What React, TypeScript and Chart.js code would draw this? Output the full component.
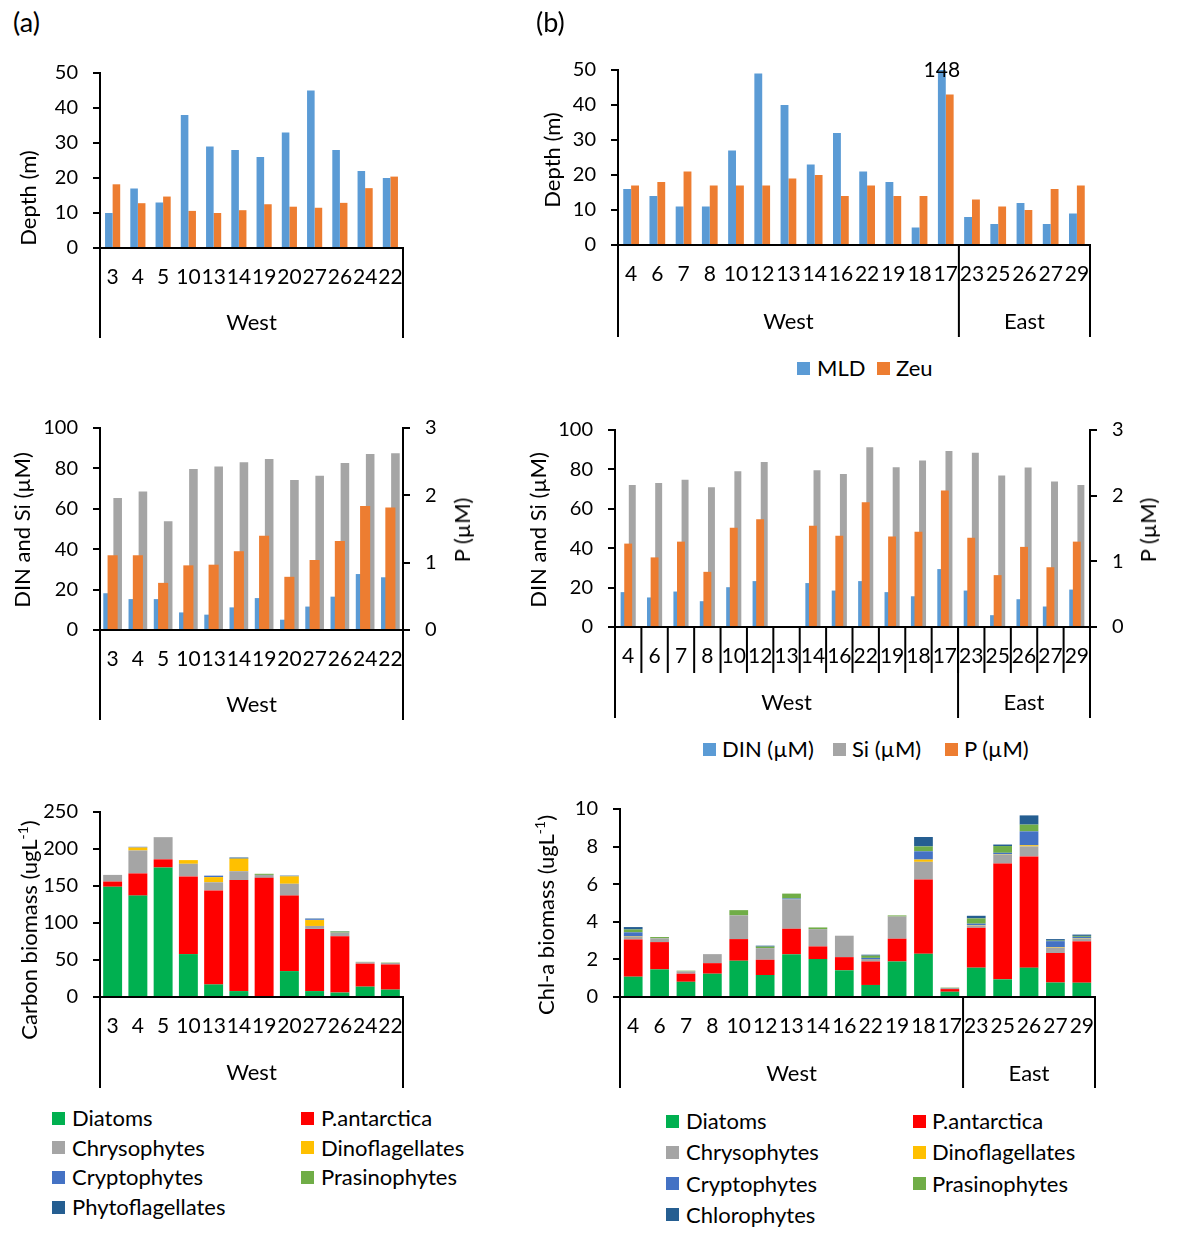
import React, { useEffect, useRef } from 'react';
import { Chart, registerables } from 'chart.js';

Chart.register(...registerables);

const FONT = 'Lato, "Open Sans", sans-serif';
const FS = 22;
const YTICK_FS = 20;
const XTICK_FS = 21;
Chart.defaults.font.family = FONT;
Chart.defaults.font.size = FS;
Chart.defaults.color = '#000';

// ---------- categories ----------
const stationsA = ['3', '4', '5', '10', '13', '14', '19', '20', '27', '26', '24', '22'];
const stationsB = ['4', '6', '7', '8', '10', '12', '13', '14', '16', '22', '19', '18', '17', '23', '25', '26', '27', '29'];
const groupsA = ['West'];
const groupCountsA = [12];
const groupsB = ['West', 'East'];
const groupCountsB = [13, 5];

// ---------- depth (m) ----------
const mldA = [10, 17, 13, 38, 29, 28, 26, 33, 45, 28, 22, 20];
const zeuA = [18.2, 12.8, 14.7, 10.6, 10, 10.8, 12.5, 11.8, 11.5, 12.9, 17.1, 20.4];
const mldB = [16, 14, 11, 11, 27, 49, 40, 23, 32, 21, 18, 5, 148, 8, 6, 12, 6, 9];
const zeuB = [17, 18, 21, 17, 17, 17, 19, 20, 14, 17, 14, 14, 43, 13, 11, 10, 16, 17];

// ---------- nutrients ----------
const dinA = [18.2, 15.3, 15.3, 8.7, 7.6, 11.2, 15.8, 5.1, 11.6, 16.5, 27.7, 26.1];
const siA = [65.3, 68.6, 53.8, 79.7, 81, 83, 84.7, 74.3, 76.4, 82.7, 87.1, 87.5];
const pA = [1.11, 1.11, 0.7, 0.96, 0.97, 1.17, 1.4, 0.79, 1.04, 1.32, 1.84, 1.82];
const dinB = [17.7, 15, 18, 13.1, 20.2, 23.3, null, 22.3, 18.5, 23.3, 17.7, 15.6, 29.4, 18.5, 6, 14.1, 10.4, 19];
const siB = [72.1, 73.1, 74.8, 70.9, 79.1, 83.7, null, 79.6, 77.7, 91.2, 81.1, 84.5, 89.3, 88.4, 76.9, 81, 73.8, 72.1];
const pB = [1.27, 1.06, 1.3, 0.84, 1.51, 1.64, null, 1.54, 1.39, 1.9, 1.38, 1.45, 2.08, 1.36, 0.79, 1.22, 0.91, 1.3];

// ---------- carbon biomass (ugL-1), panel a ----------
const diatomsA = [149, 137, 175, 58, 17, 8, 0, 35, 8, 6, 14, 10];
const pantA = [7, 30, 11, 105, 127, 150, 161, 102, 84, 76, 31, 34];
const chrysoA = [9, 31, 30, 17, 11, 12, 4, 16, 4, 5, 2, 2];
const dinoA = [0, 4, 0, 5, 7, 17, 0, 10, 8, 0, 0, 0];
const cryptoA = [0, 1, 0, 0, 2, 0, 0, 0, 1, 0, 0, 0];
const prasinoA = [0, 0, 0, 0, 0, 0, 1.5, 0, 0, 1.5, 0.5, 0.5];
const phytoA = [0, 0, 0, 0, 0, 1.5, 0, 1, 1, 0.5, 0, 0];

// ---------- Chl-a biomass (ugL-1), panel b ----------
const diatomsB = [1.08, 1.47, 0.81, 1.24, 1.93, 1.17, 2.27, 2.02, 1.42, 0.64, 1.89, 2.3, 0.28, 1.56, 0.94, 1.56, 0.77, 0.76];
const pantB = [1.98, 1.45, 0.43, 0.56, 1.15, 0.81, 1.36, 0.67, 0.7, 1.25, 1.21, 3.95, 0.14, 2.12, 6.16, 5.92, 1.57, 2.2];
const chrysoB = [0.14, 0.2, 0.12, 0.48, 1.26, 0.62, 1.56, 0.92, 1.14, 0.13, 1.18, 0.94, 0.06, 0.12, 0.47, 0.53, 0.28, 0.14];
const dinoB = [0.02, 0, 0, 0, 0, 0, 0, 0, 0, 0, 0, 0.12, 0, 0.02, 0.02, 0.06, 0.03, 0.02];
const cryptoB = [0.22, 0, 0, 0, 0, 0, 0.05, 0, 0, 0.06, 0, 0.44, 0, 0.08, 0.08, 0.74, 0.32, 0.08];
const prasinoB = [0.15, 0.07, 0.04, 0, 0.28, 0.08, 0.26, 0.09, 0, 0.12, 0.06, 0.26, 0.02, 0.28, 0.36, 0.36, 0.03, 0.05];
const chloroB = [0.13, 0, 0, 0, 0, 0.05, 0, 0, 0, 0.05, 0, 0.5, 0, 0.14, 0.08, 0.49, 0.08, 0.07];

// ---------- colours ----------
const BLUE = '#5B9BD5';
const ORANGE = '#ED7D31';
const GRAY = '#A5A5A5';
const GREEN = '#00B050';
const RED = '#FF0000';
const YELLOW = '#FFC000';
const CRYPTO = '#4472C4';
const PRASINO = '#70AD47';
const DARK = '#255E91';

const carbonNames = ['Diatoms', 'P.antarctica', 'Chrysophytes', 'Dinoflagellates', 'Cryptophytes', 'Prasinophytes', 'Phytoflagellates'];
const chlNames = ['Diatoms', 'P.antarctica', 'Chrysophytes', 'Dinoflagellates', 'Cryptophytes', 'Prasinophytes', 'Chlorophytes'];
const groupColors = [GREEN, RED, GRAY, YELLOW, CRYPTO, PRASINO, DARK];

// ---------- layout ----------
type Rect = { l: number; t: number; r: number; b: number; box: number };
const LEFT_W = 80;
const RIGHT_W = 70;
const TOP_PAD = 34;
const BOT_PAD = 6;
const PLAIN_RIGHT = 46;

function geom(p: Rect, hasRight: boolean) {
  const rightW = hasRight ? RIGHT_W : PLAIN_RIGHT;
  return {
    left: p.l - LEFT_W,
    top: p.t - TOP_PAD,
    width: p.r - p.l + LEFT_W + rightW,
    height: p.box + BOT_PAD - (p.t - TOP_PAD),
    rightW,
    hasRight,
    depth: p.box - p.b,
  };
}

const groupBoxPlugin = {
  id: 'groupBox',
  afterDraw(chart: any, _args: any, opts: any) {
    if (!opts || !opts.groups) return;
    const { ctx, chartArea } = chart;
    const x = chart.scales.x;
    const n = chart.data.labels.length;
    const step = x.getPixelForValue(1) - x.getPixelForValue(0);
    const edge = (i: number) => x.getPixelForValue(i) - step / 2;
    const bottom = chartArea.bottom + opts.depth;
    ctx.save();
    ctx.strokeStyle = '#000';
    ctx.lineWidth = 2;
    const vline = (px: number, y2: number) => {
      ctx.beginPath();
      ctx.moveTo(px, chartArea.bottom);
      ctx.lineTo(px, y2);
      ctx.stroke();
    };
    if (opts.minorDepth) {
      for (let i = 1; i < n; i++) vline(edge(i), chartArea.bottom + opts.minorDepth);
    }
    vline(edge(0), bottom);
    ctx.fillStyle = '#000';
    ctx.font = `${FS}px ${FONT}`;
    ctx.textAlign = 'center';
    ctx.textBaseline = 'middle';
    let idx = 0;
    opts.groups.forEach((g: string, gi: number) => {
      const start = edge(idx);
      idx += opts.counts[gi];
      const end = edge(idx);
      vline(end, bottom);
      ctx.fillText(g, (start + end) / 2, chartArea.bottom + opts.labelOffset);
    });
    ctx.restore();
  },
};

const overflowLabelPlugin = {
  id: 'overflowLabel',
  afterDatasetsDraw(chart: any, _args: any, opts: any) {
    if (!opts || !opts.enabled) return;
    const { ctx, chartArea } = chart;
    const max = chart.scales.y.max;
    const meta = chart.getDatasetMeta(0);
    const ds = chart.data.datasets[0];
    ctx.save();
    ctx.fillStyle = '#000';
    ctx.font = `${XTICK_FS}px ${FONT}`;
    ctx.textAlign = 'center';
    ctx.textBaseline = 'middle';
    ds.data.forEach((v: number, i: number) => {
      if (v != null && v > max) ctx.fillText(String(v), meta.data[i].x, chartArea.top);
    });
    ctx.restore();
  },
};

function xScale(depth: number, stacked = false) {
  return {
    stacked,
    grid: { display: false, drawTicks: false },
    border: { display: true, color: '#000', width: 2, z: 1 },
    ticks: { autoSkip: false, maxRotation: 0, minRotation: 0, padding: 17, color: '#000', font: { size: XTICK_FS } },
    afterFit: (s: any) => {
      s.height = depth;
    },
  };
}

function yScale(min: number, max: number, step: number, position: 'left' | 'right', w: number, stacked = false) {
  return {
    stacked,
    position,
    min,
    max,
    ticks: { stepSize: step, padding: 15, color: '#000', font: { size: YTICK_FS } },
    grid: { drawOnChartArea: false, drawTicks: true, tickLength: 7, color: '#000', lineWidth: 2 },
    border: { display: true, color: '#000', width: 2, z: 1 },
    afterFit: (s: any) => {
      s.width = w;
    },
  };
}

function baseOptions(g: any) {
  return {
    responsive: false,
    animation: false as const,
    events: [],
    layout: { padding: { left: 0, right: g.hasRight ? 0 : g.rightW, top: TOP_PAD, bottom: BOT_PAD } },
  };
}

// ---------- panel rects ----------
const rA1: Rect = { l: 100, t: 73, r: 403, b: 248, box: 338 };
const rB1: Rect = { l: 618, t: 70, r: 1090, b: 245, box: 337 };
const rA2: Rect = { l: 100, t: 428, r: 403, b: 630, box: 720 };
const rB2: Rect = { l: 615, t: 430, r: 1090, b: 627, box: 718 };
const rA3: Rect = { l: 100, t: 812, r: 403, b: 997, box: 1088 };
const rB3: Rect = { l: 620, t: 809, r: 1095, b: 997, box: 1088 };

function depthConfig(r: Rect, labels: string[], mld: number[], zeu: number[], groups: string[], counts: number[], labelOffset: number, overflow: boolean) {
  const g = geom(r, false);
  return {
    g,
    config: {
      type: 'bar',
      data: {
        labels,
        datasets: [
          { label: 'MLD', data: mld, backgroundColor: BLUE, clip: 0 },
          { label: 'Zeu', data: zeu, backgroundColor: ORANGE, clip: 0 },
        ],
      },
      options: {
        ...baseOptions(g),
        datasets: { bar: { categoryPercentage: 0.6, barPercentage: 1 } },
        plugins: {
          legend: { display: false },
          tooltip: { enabled: false },
          groupBox: { groups, counts, depth: g.depth, labelOffset },
          overflowLabel: { enabled: overflow },
        },
        scales: { x: xScale(g.depth), y: yScale(0, 50, 10, 'left', LEFT_W) },
      },
      plugins: [groupBoxPlugin, overflowLabelPlugin],
    },
  };
}

function nutrientConfig(r: Rect, labels: string[], din: any[], si: any[], p: any[], groups: string[], counts: number[], labelOffset: number, minorDepth: number, catPct: number, pPct: number) {
  const g = geom(r, true);
  return {
    g,
    config: {
      type: 'bar',
      data: {
        labels,
        datasets: [
          { label: 'DIN (µM)', data: din, backgroundColor: BLUE, yAxisID: 'y', categoryPercentage: catPct, barPercentage: 0.85 },
          { label: 'Si (µM)', data: si, backgroundColor: GRAY, yAxisID: 'y', categoryPercentage: catPct, barPercentage: 0.85 },
          { label: 'P (µM)', data: p, backgroundColor: ORANGE, yAxisID: 'y2', grouped: false, order: -1, categoryPercentage: pPct, barPercentage: 1 },
        ],
      },
      options: {
        ...baseOptions(g),
        plugins: {
          legend: { display: false },
          tooltip: { enabled: false },
          groupBox: { groups, counts, depth: g.depth, labelOffset, minorDepth },
        },
        scales: {
          x: xScale(g.depth),
          y: yScale(0, 100, 20, 'left', LEFT_W),
          y2: yScale(0, 3, 1, 'right', RIGHT_W),
        },
      },
      plugins: [groupBoxPlugin],
    },
  };
}

function stackConfig(r: Rect, labels: string[], names: string[], series: number[][], groups: string[], counts: number[], labelOffset: number, max: number, step: number, catPct: number) {
  const g = geom(r, false);
  return {
    g,
    config: {
      type: 'bar',
      data: {
        labels,
        datasets: series.map((d, i) => ({ label: names[i], data: d, backgroundColor: groupColors[i] })),
      },
      options: {
        ...baseOptions(g),
        datasets: { bar: { categoryPercentage: catPct, barPercentage: 1 } },
        plugins: {
          legend: { display: false },
          tooltip: { enabled: false },
          groupBox: { groups, counts, depth: g.depth, labelOffset },
        },
        scales: { x: xScale(g.depth, true), y: yScale(0, max, step, 'left', LEFT_W, true) },
      },
      plugins: [groupBoxPlugin],
    },
  };
}

function ChartBox({ spec }: { spec: { g: any; config: any } }) {
  const ref = useRef<HTMLCanvasElement>(null);
  useEffect(() => {
    const c = new Chart(ref.current as HTMLCanvasElement, spec.config as any);
    return () => c.destroy();
  }, []);
  const { g } = spec;
  return (
    <canvas
      ref={ref}
      width={g.width}
      height={g.height}
      style={{ position: 'absolute', left: g.left, top: g.top, width: g.width, height: g.height }}
    />
  );
}

function VTitle({ x, y, children, rot = -90 }: { x: number; y: number; children: any; rot?: number }) {
  return (
    <div
      style={{
        position: 'absolute',
        left: x,
        top: y,
        transform: `translate(-50%, -50%) rotate(${rot}deg)`,
        whiteSpace: 'nowrap',
        fontSize: FS,
        lineHeight: '26px',
        color: '#000',
      }}
    >
      {children}
    </div>
  );
}

function LegendItem({ x, y, color, label, textX }: { x: number; y: number; color: string; label: string; textX: number }) {
  return (
    <>
      <div style={{ position: 'absolute', left: x, top: y - 6.5, width: 13, height: 13, background: color }} />
      <div style={{ position: 'absolute', left: textX, top: y - 13, height: 26, lineHeight: '26px', fontSize: FS, whiteSpace: 'nowrap', color: '#000' }}>
        {label}
      </div>
    </>
  );
}

const specA1 = depthConfig(rA1, stationsA, mldA, zeuA, groupsA, groupCountsA, 75, false);
const specB1 = depthConfig(rB1, stationsB, mldB, zeuB, groupsB, groupCountsB, 77, true);
const specA2 = nutrientConfig(rA2, stationsA, dinA, siA, pA, groupsA, groupCountsA, 75, 0, 0.8, 0.4);
const specB2 = nutrientConfig(rB2, stationsB, dinB, siB, pB, groupsB, groupCountsB, 76, 46, 0.62, 0.3);
const specA3 = stackConfig(rA3, stationsA, carbonNames, [diatomsA, pantA, chrysoA, dinoA, cryptoA, prasinoA, phytoA], groupsA, groupCountsA, 76, 250, 50, 0.75);
const specB3 = stackConfig(rB3, stationsB, chlNames, [diatomsB, pantB, chrysoB, dinoB, cryptoB, prasinoB, chloroB], groupsB, groupCountsB, 77, 10, 2, 0.71);

export default function App() {
  const legA3 = carbonNames.map((n, i) => {
    const col = i % 2;
    const row = Math.floor(i / 2);
    return (
      <LegendItem
        key={'a' + n}
        x={col === 0 ? 52 : 301}
        textX={col === 0 ? 72 : 321}
        y={1118 + row * 29.7}
        color={groupColors[i]}
        label={n}
      />
    );
  });
  const legB3 = chlNames.map((n, i) => {
    const col = i % 2;
    const row = Math.floor(i / 2);
    return (
      <LegendItem
        key={'b' + n}
        x={col === 0 ? 666 : 913}
        textX={col === 0 ? 686 : 932}
        y={1121 + row * 31.3}
        color={groupColors[i]}
        label={n}
      />
    );
  });
  return (
    <div style={{ position: 'absolute', left: 0, top: 0, width: 1177, height: 1234, background: '#fff', fontFamily: FONT, overflow: 'hidden' }}>
      <ChartBox spec={specA1} />
      <ChartBox spec={specB1} />
      <ChartBox spec={specA2} />
      <ChartBox spec={specB2} />
      <ChartBox spec={specA3} />
      <ChartBox spec={specB3} />

      <div style={{ position: 'absolute', left: 13, top: 6, fontSize: 27, lineHeight: '32px' }}>(a)</div>
      <div style={{ position: 'absolute', left: 536, top: 6, fontSize: 27, lineHeight: '32px' }}>(b)</div>

      <VTitle x={28} y={198}>Depth (m)</VTitle>
      <VTitle x={552} y={160}>Depth (m)</VTitle>
      <VTitle x={22} y={530}>DIN and Si (µM)</VTitle>
      <VTitle x={462} y={530}>P (µM)</VTitle>
      <VTitle x={538} y={530}>DIN and Si (µM)</VTitle>
      <VTitle x={1148} y={530}>P (µM)</VTitle>
      <VTitle x={26} y={930}>
        Carbon biomass (ugL<sup style={{ fontSize: 14 }}>-1</sup>)
      </VTitle>
      <VTitle x={543} y={915}>
        Chl-a biomass (ugL<sup style={{ fontSize: 14 }}>-1</sup>)
      </VTitle>

      <LegendItem x={797} textX={817} y={368} color={BLUE} label="MLD" />
      <LegendItem x={877} textX={896} y={368} color={ORANGE} label="Zeu" />

      <LegendItem x={703} textX={722} y={749} color={BLUE} label="DIN (µM)" />
      <LegendItem x={833} textX={852} y={749} color={GRAY} label="Si (µM)" />
      <LegendItem x={945} textX={964} y={749} color={ORANGE} label="P (µM)" />

      {legA3}
      {legB3}
    </div>
  );
}
